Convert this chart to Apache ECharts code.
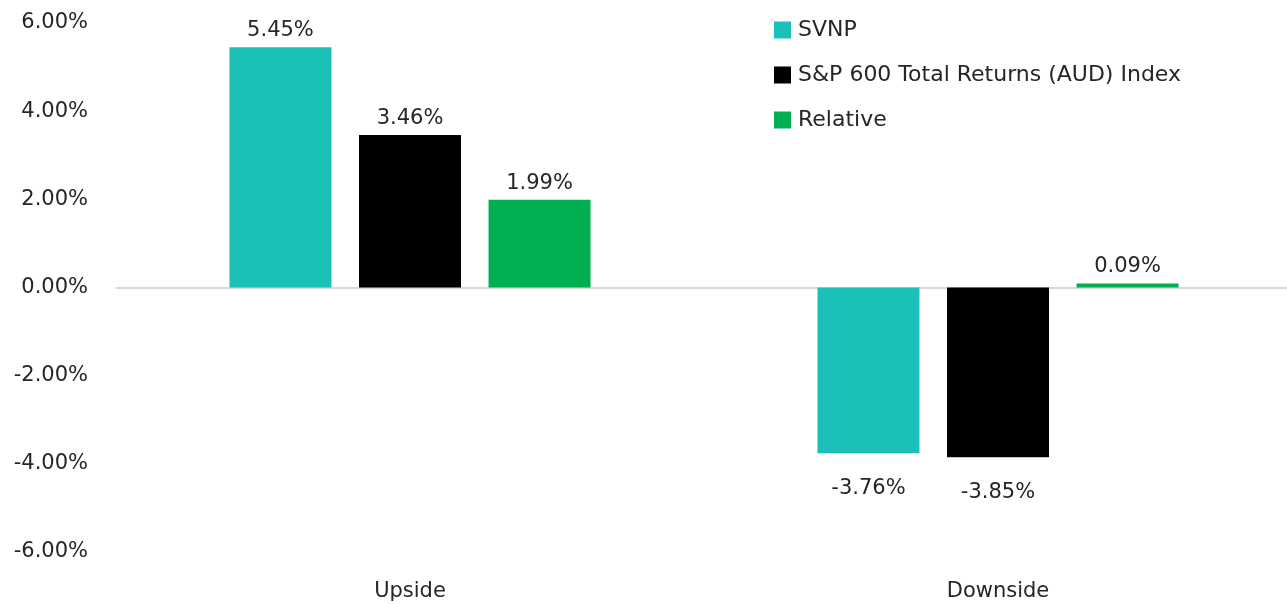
<!DOCTYPE html>
<html>
<head>
<meta charset="utf-8">
<script src="https://cdn.jsdelivr.net/npm/echarts@6/dist/echarts.min.js"></script>
<style>
  html, body { margin: 0; padding: 0; background: #fff; overflow: hidden; }
  /* 略宽于窗口，让零线和分类带伸到右边缘之外 */
  #chart { width: 1292px; height: 604px; }
</style>
</head>
<body>
<div id="chart"></div>
<script>
// 分类
const categories = ['Upside', 'Downside'];
// 系列数据 (%)
const svnp = [5.45, -3.76];
const sp600 = [3.46, -3.85];
const relative = [1.99, 0.09];
// y 轴刻度
const yTicks = [-6, -4, -2, 0, 2, 4, 6];

const FONT = '"DejaVu Sans", Inter, sans-serif';
const TEXT = '#262626';

const chart = echarts.init(document.getElementById('chart'));

function barSeries(name, data, color, withZero) {
  const s = {
    name: name,
    type: 'bar',
    barWidth: 102,
    barGap: '27%',
    itemStyle: { color: color },
    label: {
      show: true,
      fontFamily: FONT,
      fontSize: 21,
      color: TEXT,
      formatter: (p) => p.value.toFixed(2) + '%',
    },
    // 正值在上，负值在下
    data: data.map((v) => ({
      value: v,
      label: v < 0 ? { position: 'bottom', distance: 25 } : { position: 'top', distance: 6 },
    })),
  };
  if (withZero) {
    s.markLine = {
      silent: true,
      symbol: 'none',
      label: { show: false },
      lineStyle: { color: '#d9d9d9', width: 2, type: 'solid' },
      data: [{ yAxis: 0 }],
      z: 1,
    };
  }
  return s;
}

const option = {
  animation: false,
  textStyle: { fontFamily: FONT },
  grid: {
    left: 116,
    right: 0,
    top: 23,
    bottom: 52,
  },
  legend: {
    orient: 'vertical',
    left: 774,
    top: 19,
    padding: 0,
    itemWidth: 17,
    itemHeight: 17,
    itemGap: 23,
    icon: 'rect',
    textStyle: { fontFamily: FONT, fontSize: 22, color: TEXT, lineHeight: 22, padding: [0, 0, 0, 2] },
    data: ['SVNP', 'S&P 600 Total Returns (AUD) Index', 'Relative'],
  },
  xAxis: {
    type: 'category',
    data: categories,
    axisLine: { show: false, onZero: false },
    axisTick: { show: false },
    axisLabel: { fontSize: 21, color: TEXT, margin: 29, fontFamily: FONT },
  },
  yAxis: {
    type: 'value',
    min: yTicks[0],
    max: yTicks[yTicks.length - 1],
    interval: 2,
    axisLine: { show: false },
    axisTick: { show: false },
    splitLine: { show: false },
    axisLabel: {
      fontSize: 21,
      color: TEXT,
      margin: 28,
      fontFamily: FONT,
      formatter: (v) => v.toFixed(2) + '%',
    },
  },
  series: [
    barSeries('SVNP', svnp, '#1bc1b9', true),
    barSeries('S&P 600 Total Returns (AUD) Index', sp600, '#000000', false),
    barSeries('Relative', relative, '#00b050', false),
  ],
};

chart.setOption(option);
</script>
</body>
</html>
